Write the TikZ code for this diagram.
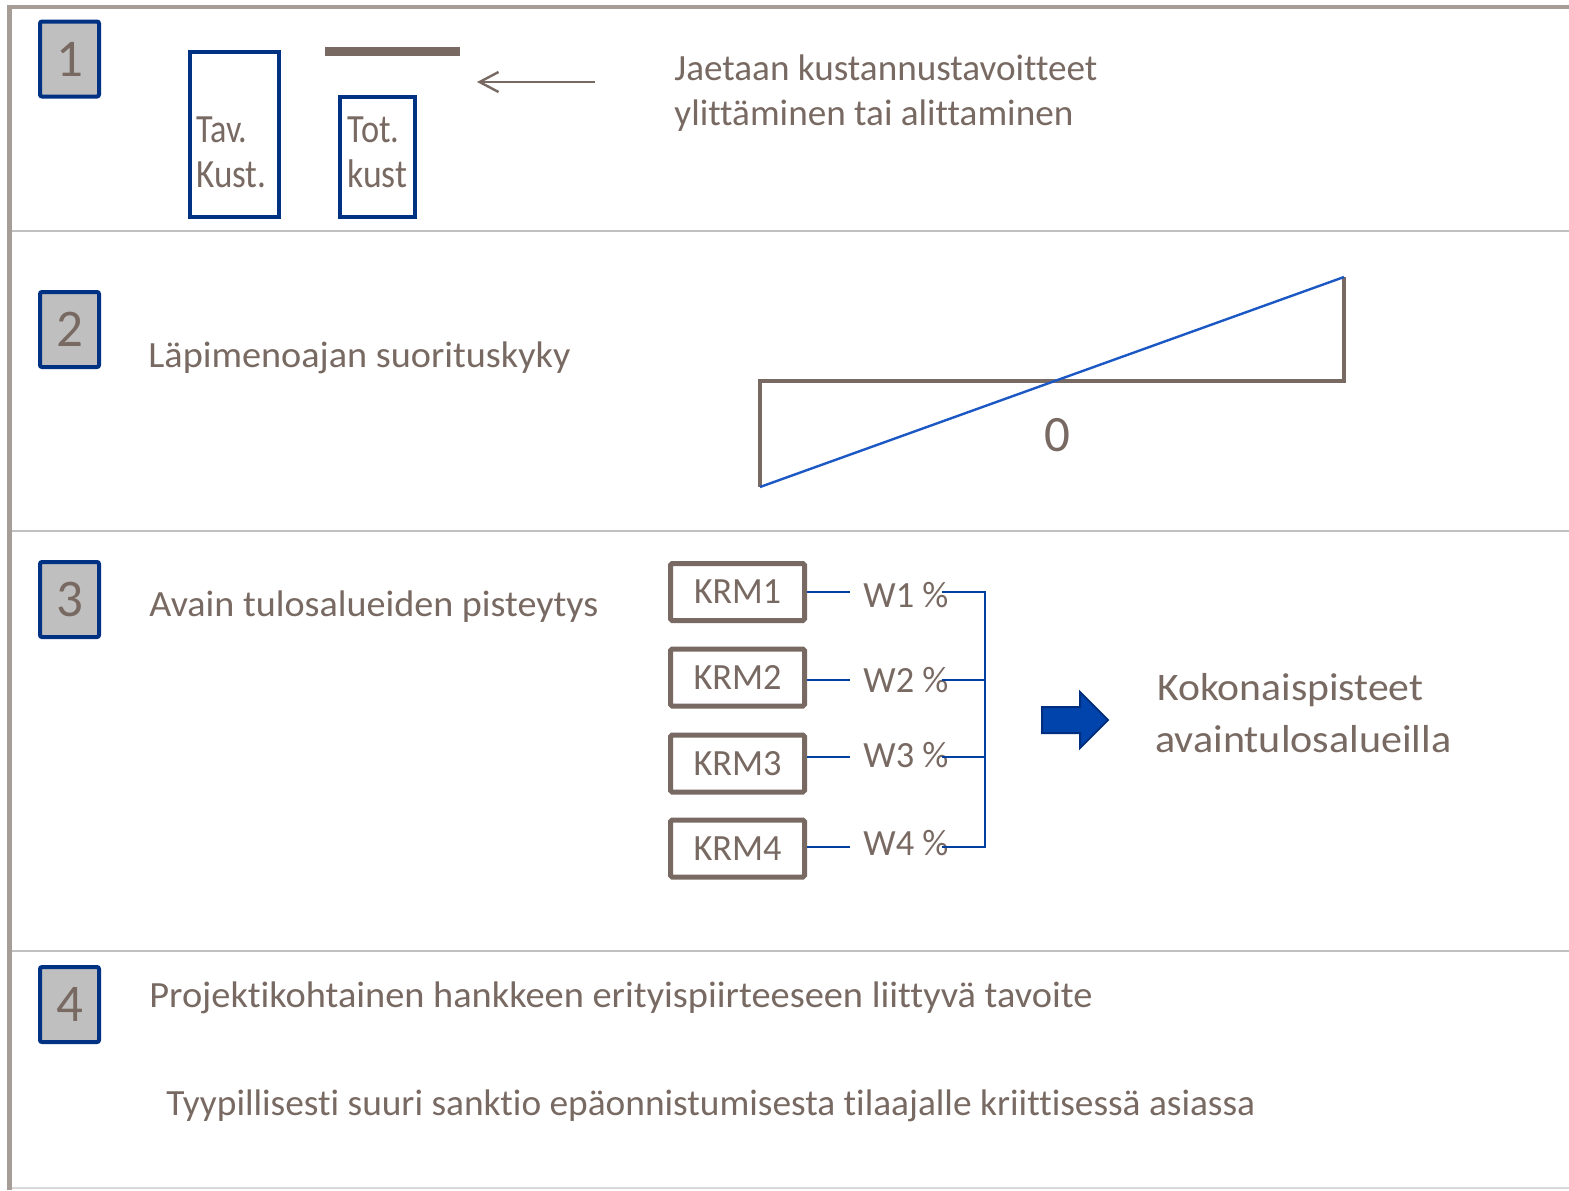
\documentclass[tikz,border=0pt]{standalone}
\usepackage{fontspec}
\setmainfont{Carlito}[Ligatures=NoCommon]
\usepackage{graphicx}
\usetikzlibrary{arrows.meta}
\newlength\pxu
\setlength\pxu{0.5pt}
\newcommand\fitw[2]{\resizebox{#1\pxu}{\height}{#2}}
\definecolor{textc}{RGB}{120,106,98}
\definecolor{navy}{RGB}{0,50,132}
\definecolor{boxgray}{RGB}{191,191,191}
\definecolor{framec}{RGB}{166,158,150}
\definecolor{divc}{RGB}{192,192,192}
\definecolor{botc}{RGB}{217,217,217}
\definecolor{triblue}{RGB}{28,88,196}
\definecolor{connblue}{RGB}{0,64,160}
\definecolor{arrfill}{RGB}{0,68,172}
\definecolor{arrdraw}{RGB}{0,46,126}
\begin{document}
\begin{tikzpicture}[x=0.5pt,y=-0.5pt,
  txt/.style={text=textc, inner sep=0pt, anchor=base west, font=\fontsize{18.5}{22}\selectfont},
  numbox/.style={draw=navy, fill=boxgray, line width=2pt, rounded corners=1pt,
    minimum width=59\pxu, minimum height=75\pxu, inner sep=0pt, text=textc,
    font=\fontsize{26.5}{30}\selectfont},
  costbox/.style={draw=navy, line width=2pt, inner sep=0pt},
  krmbox/.style={draw=textc, line width=2.5pt, rounded corners=0.8pt, minimum width=134\pxu,
    minimum height=57\pxu, inner sep=0pt, text=textc, font=\fontsize{18.5}{22}\selectfont},
  wlab/.style={txt, inner xsep=6.5pt},
  conn/.style={draw=connblue, line width=1pt},
  divline/.style={draw=divc, line width=1pt}
]
\useasboundingbox (0,0) rectangle (1569,1190);
\fill[white] (0,0) rectangle (1569,1190);

% frame and dividers
\draw[divline] (12,231) -- (1569,231);
\draw[divline] (12,531) -- (1569,531);
\draw[divline] (12,951) -- (1569,951);
\draw[draw=botc, line width=0.8pt] (12,1188) -- (1569,1188);
\draw[draw=framec, line width=2pt] (7,7) -- (1569,7);
\draw[draw=framec, line width=2.5pt] (9.5,5) -- (9.5,1190);

% number boxes
\node[numbox] (n1) at (69.5,59) {1};
\node[numbox] (n2) at (69.5,329.5) {2};
\node[numbox] (n3) at (69.5,599.5) {3};
\node[numbox] (n4) at (69.5,1004.5) {4};

% section 1
\node[costbox, minimum width=89\pxu, minimum height=165\pxu] (tav) at (234.5,134.5) {};
\node[costbox, minimum width=75\pxu, minimum height=120\pxu] (tot) at (377.5,157) {};
\node[txt, font=\fontsize{20}{24}\selectfont] (tavl) at (196,142) {\fitw{51}{Tav.}};
\node[txt, font=\fontsize{20}{24}\selectfont] (kustl) at (196,187) {\fitw{70}{Kust.}};
\node[txt, font=\fontsize{20}{24}\selectfont] (totl) at (347,142) {\fitw{52}{Tot.}};
\node[txt, font=\fontsize{20}{24}\selectfont] (kustl2) at (347,187) {\fitw{60}{kust}};
\fill[textc] (325,47) rectangle (460,56);
\coordinate (arrS) at (595,82);
\coordinate (arrE) at (477,82);
\draw[draw=textc, line width=1pt, -{Straight Barb[length=9.5pt,width=10pt,line width=1.2pt]}] (arrS) -- (arrE);
\node[txt] (jae1) at (674,80) {\fitw{423}{Jaetaan kustannustavoitteet}};
\node[txt] (jae2) at (674,125) {\fitw{399}{ylittäminen tai alittaminen}};

% section 2
\node[txt] (lapi) at (148,367) {\fitw{422}{Läpimenoajan suorituskyky}};
\coordinate (t1) at (760,487);
\coordinate (t2) at (760,381);
\coordinate (t3) at (1344,381);
\coordinate (t4) at (1344,277);
\draw[draw=textc, line width=2pt, line join=miter] (t1) -- (t2) -- (t3) -- (t4);
\draw[draw=triblue, line width=1.2pt] (t1) -- (t4);
\node[text=textc, inner sep=0pt, font=\fontsize{25.5}{30}\selectfont] (zero) at (1057,435) {0};

% section 3
\node[txt] (avain) at (149,616) {\fitw{449}{Avain tulosalueiden pisteytys}};
\node[krmbox] (k1) at (737.5,592) {\fitw{87}{KRM1}};
\node[krmbox] (k2) at (737.5,677.5) {\fitw{88}{KRM2}};
\node[krmbox] (k3) at (737.5,763.5) {\fitw{88}{KRM3}};
\node[krmbox] (k4) at (737.5,848.5) {\fitw{88}{KRM4}};
\node[wlab] (w1) at (850,607) {\fitw{85}{W1 \%}};
\node[wlab] (w2) at (850,692) {\fitw{85}{W2 \%}};
\node[wlab] (w3) at (850,767) {\fitw{85}{W3 \%}};
\node[wlab] (w4) at (850,855) {\fitw{85}{W4 \%}};
\coordinate (b1) at (985,592);
\coordinate (b2) at (985,680);
\coordinate (b3) at (985,757);
\coordinate (b4) at (985,847);
\draw[conn] (k1.east) -- (k1.east -| w1.west);
\draw[conn] (k2.east |- b2) -- (w2.west |- b2);
\draw[conn] (k3.east |- b3) -- (w3.west |- b3);
\draw[conn] (k4.east |- b4) -- (w4.west |- b4);
\draw[conn] (b1) -- ++(-43,0);
\draw[conn] (b2) -- ++(-43,0);
\draw[conn] (b3) -- ++(-43,0);
\draw[conn] (b4) -- ++(-43,0);
\draw[conn, line cap=rect] (b1) -- (b4);
\filldraw[fill=arrfill, draw=arrdraw, line width=1pt, line join=miter]
  (1042,707) -- (1080,707) -- (1080,692) -- (1108,720) -- (1080,748) -- (1080,733) -- (1042,733) -- cycle;
\node[txt, font=\fontsize{19.5}{23}\selectfont] (koko1) at (1157,700) {\fitw{266}{Kokonaispisteet}};
\node[txt, font=\fontsize{19.5}{23}\selectfont] (koko2) at (1155,752) {\fitw{296}{avaintulosalueilla}};

% section 4
\node[txt] (proj) at (149,1007) {\fitw{943}{Projektikohtainen hankkeen erityispiirteeseen liittyvä tavoite}};
\node[txt] (tyyp) at (166,1115) {\fitw{1089}{Tyypillisesti suuri sanktio epäonnistumisesta tilaajalle kriittisessä asiassa}};
\end{tikzpicture}
\end{document}
